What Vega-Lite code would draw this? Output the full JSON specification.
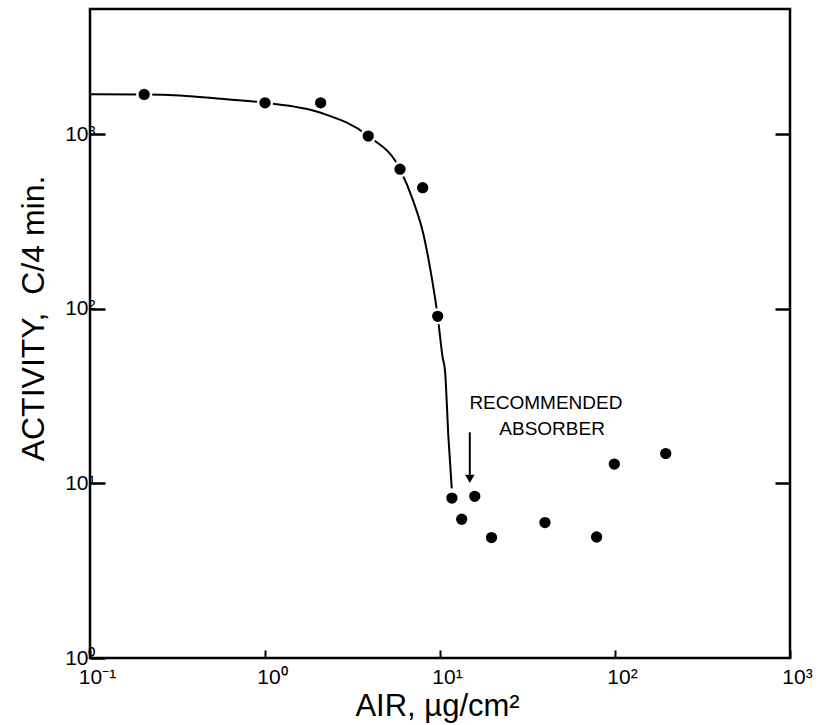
{
  "$schema": "https://vega.github.io/schema/vega-lite/v6.json",
  "width": 700,
  "height": 649,
  "autosize": "none",
  "padding": {"left": 90, "top": 9, "right": 31, "bottom": 67},
  "background": "white",
  "config": {
    "view": {"stroke": "black", "strokeWidth": 2.5},
    "font": "Liberation Sans",
    "axis": {"grid": false, "domain": false, "tickColor": "black", "labelColor": "black", "titleColor": "black", "labelFont": "Liberation Sans", "titleFont": "Liberation Sans", "titleFontWeight": "normal", "labelFlush": false}
  },
  "datasets": {
    "points": [
      {"air": 0.204, "activity": 1686},
      {"air": 1.0, "activity": 1510},
      {"air": 2.08, "activity": 1510},
      {"air": 3.89, "activity": 974},
      {"air": 5.91, "activity": 629},
      {"air": 7.96, "activity": 493},
      {"air": 9.7, "activity": 90.4},
      {"air": 11.7, "activity": 8.24},
      {"air": 15.8, "activity": 8.43},
      {"air": 13.3, "activity": 6.23},
      {"air": 19.7, "activity": 4.89},
      {"air": 39.8, "activity": 5.96},
      {"air": 78.5, "activity": 4.93},
      {"air": 99.1, "activity": 12.9},
      {"air": 195, "activity": 14.8}
    ],
    "curve": [
      {"air": 0.1, "activity": 1690},
      {"air": 0.204, "activity": 1686},
      {"air": 0.327, "activity": 1664},
      {"air": 0.604, "activity": 1580},
      {"air": 1.0, "activity": 1510},
      {"air": 2.08, "activity": 1324},
      {"air": 3.89, "activity": 974},
      {"air": 5.91, "activity": 629},
      {"air": 7.03, "activity": 414},
      {"air": 8.04, "activity": 267},
      {"air": 8.77, "activity": 172},
      {"air": 9.7, "activity": 90.4},
      {"air": 10.35, "activity": 52.7},
      {"air": 10.68, "activity": 44.2},
      {"air": 11.17, "activity": 18.4},
      {"air": 11.67, "activity": 9.36}
    ],
    "arrow": [
      {"air": 14.8, "activity": 19.6},
      {"air": 14.8, "activity": 11.2}
    ],
    "arrowhead": [
      {"air": 14.8, "activity": 10.6}
    ],
    "labels": [
      {"air": 40.3, "activity": 29.0, "text": "RECOMMENDED"},
      {"air": 43.7, "activity": 20.6, "text": "ABSORBER"}
    ]
  },
  "layer": [
    {
      "encoding": {
        "x": {
          "field": "air", "type": "quantitative",
          "scale": {"type": "log", "domain": [0.1, 1000], "nice": false},
          "axis": {
            "values": [0.1, 1, 10, 100, 1000],
            "tickSize": -8, "tickWidth": 2,
            "labelFontSize": 21, "labelPadding": 16, "labelOffset": 7,
            "labelExpr": "'10' + replace(replace(replace(replace(replace(''+round(log(datum.value)/LN10),'-','⁻'),'0','⁰'),'1','¹'),'2','²'),'3','³')",
            "title": "AIR, µg/cm²", "titleFontSize": 31,
            "titleX": 347, "titleY": 57, "titleAlign": "center", "titleBaseline": "alphabetic"
          }
        },
        "y": {
          "field": "activity", "type": "quantitative",
          "scale": {"type": "log", "domain": [1, 5200], "nice": false},
          "axis": {
            "values": [1, 10, 100, 1000],
            "tickSize": -15, "tickWidth": 2.5,
            "labelFontSize": 21, "labelPadding": 10,
            "labelExpr": "'10' + replace(replace(replace(replace(''+round(log(datum.value)/LN10),'0','⁰'),'1','¹'),'2','²'),'3','³')",
            "title": "ACTIVITY,\u00a0 C/4 min.", "titleFontSize": 32,
            "titleAngle": 270, "titleX": -57, "titleY": 309, "titleAlign": "center", "titleBaseline": "middle"
          }
        }
      },
      "layer": [
        {
          "data": {"name": "curve"},
          "mark": {"type": "line", "color": "black", "strokeWidth": 2, "interpolate": "monotone"}
        },
        {
          "data": {"name": "arrow"},
          "mark": {"type": "line", "color": "black", "strokeWidth": 2}
        },
        {
          "data": {"name": "arrowhead"},
          "mark": {"type": "point", "shape": "triangle-down", "filled": true, "color": "black", "size": 90, "opacity": 1}
        },
        {
          "data": {"name": "points"},
          "mark": {"type": "point", "shape": "circle", "filled": true, "fill": "black", "stroke": "white", "strokeWidth": 2.5, "size": 190, "opacity": 1}
        },
        {
          "data": {"name": "labels"},
          "mark": {"type": "text", "fontSize": 19, "color": "black", "align": "center", "baseline": "middle"},
          "encoding": {"text": {"field": "text"}}
        }
      ]
    },
    {
      "data": {"name": "points"},
      "mark": {"type": "point", "opacity": 0},
      "encoding": {
        "y": {
          "field": "activity", "type": "quantitative",
          "axis": {"orient": "right", "values": [10, 100, 1000], "tickSize": -15, "tickWidth": 2.5, "labels": false, "title": null, "domain": false}
        }
      }
    }
  ],
  "resolve": {"axis": {"y": "independent"}}
}
